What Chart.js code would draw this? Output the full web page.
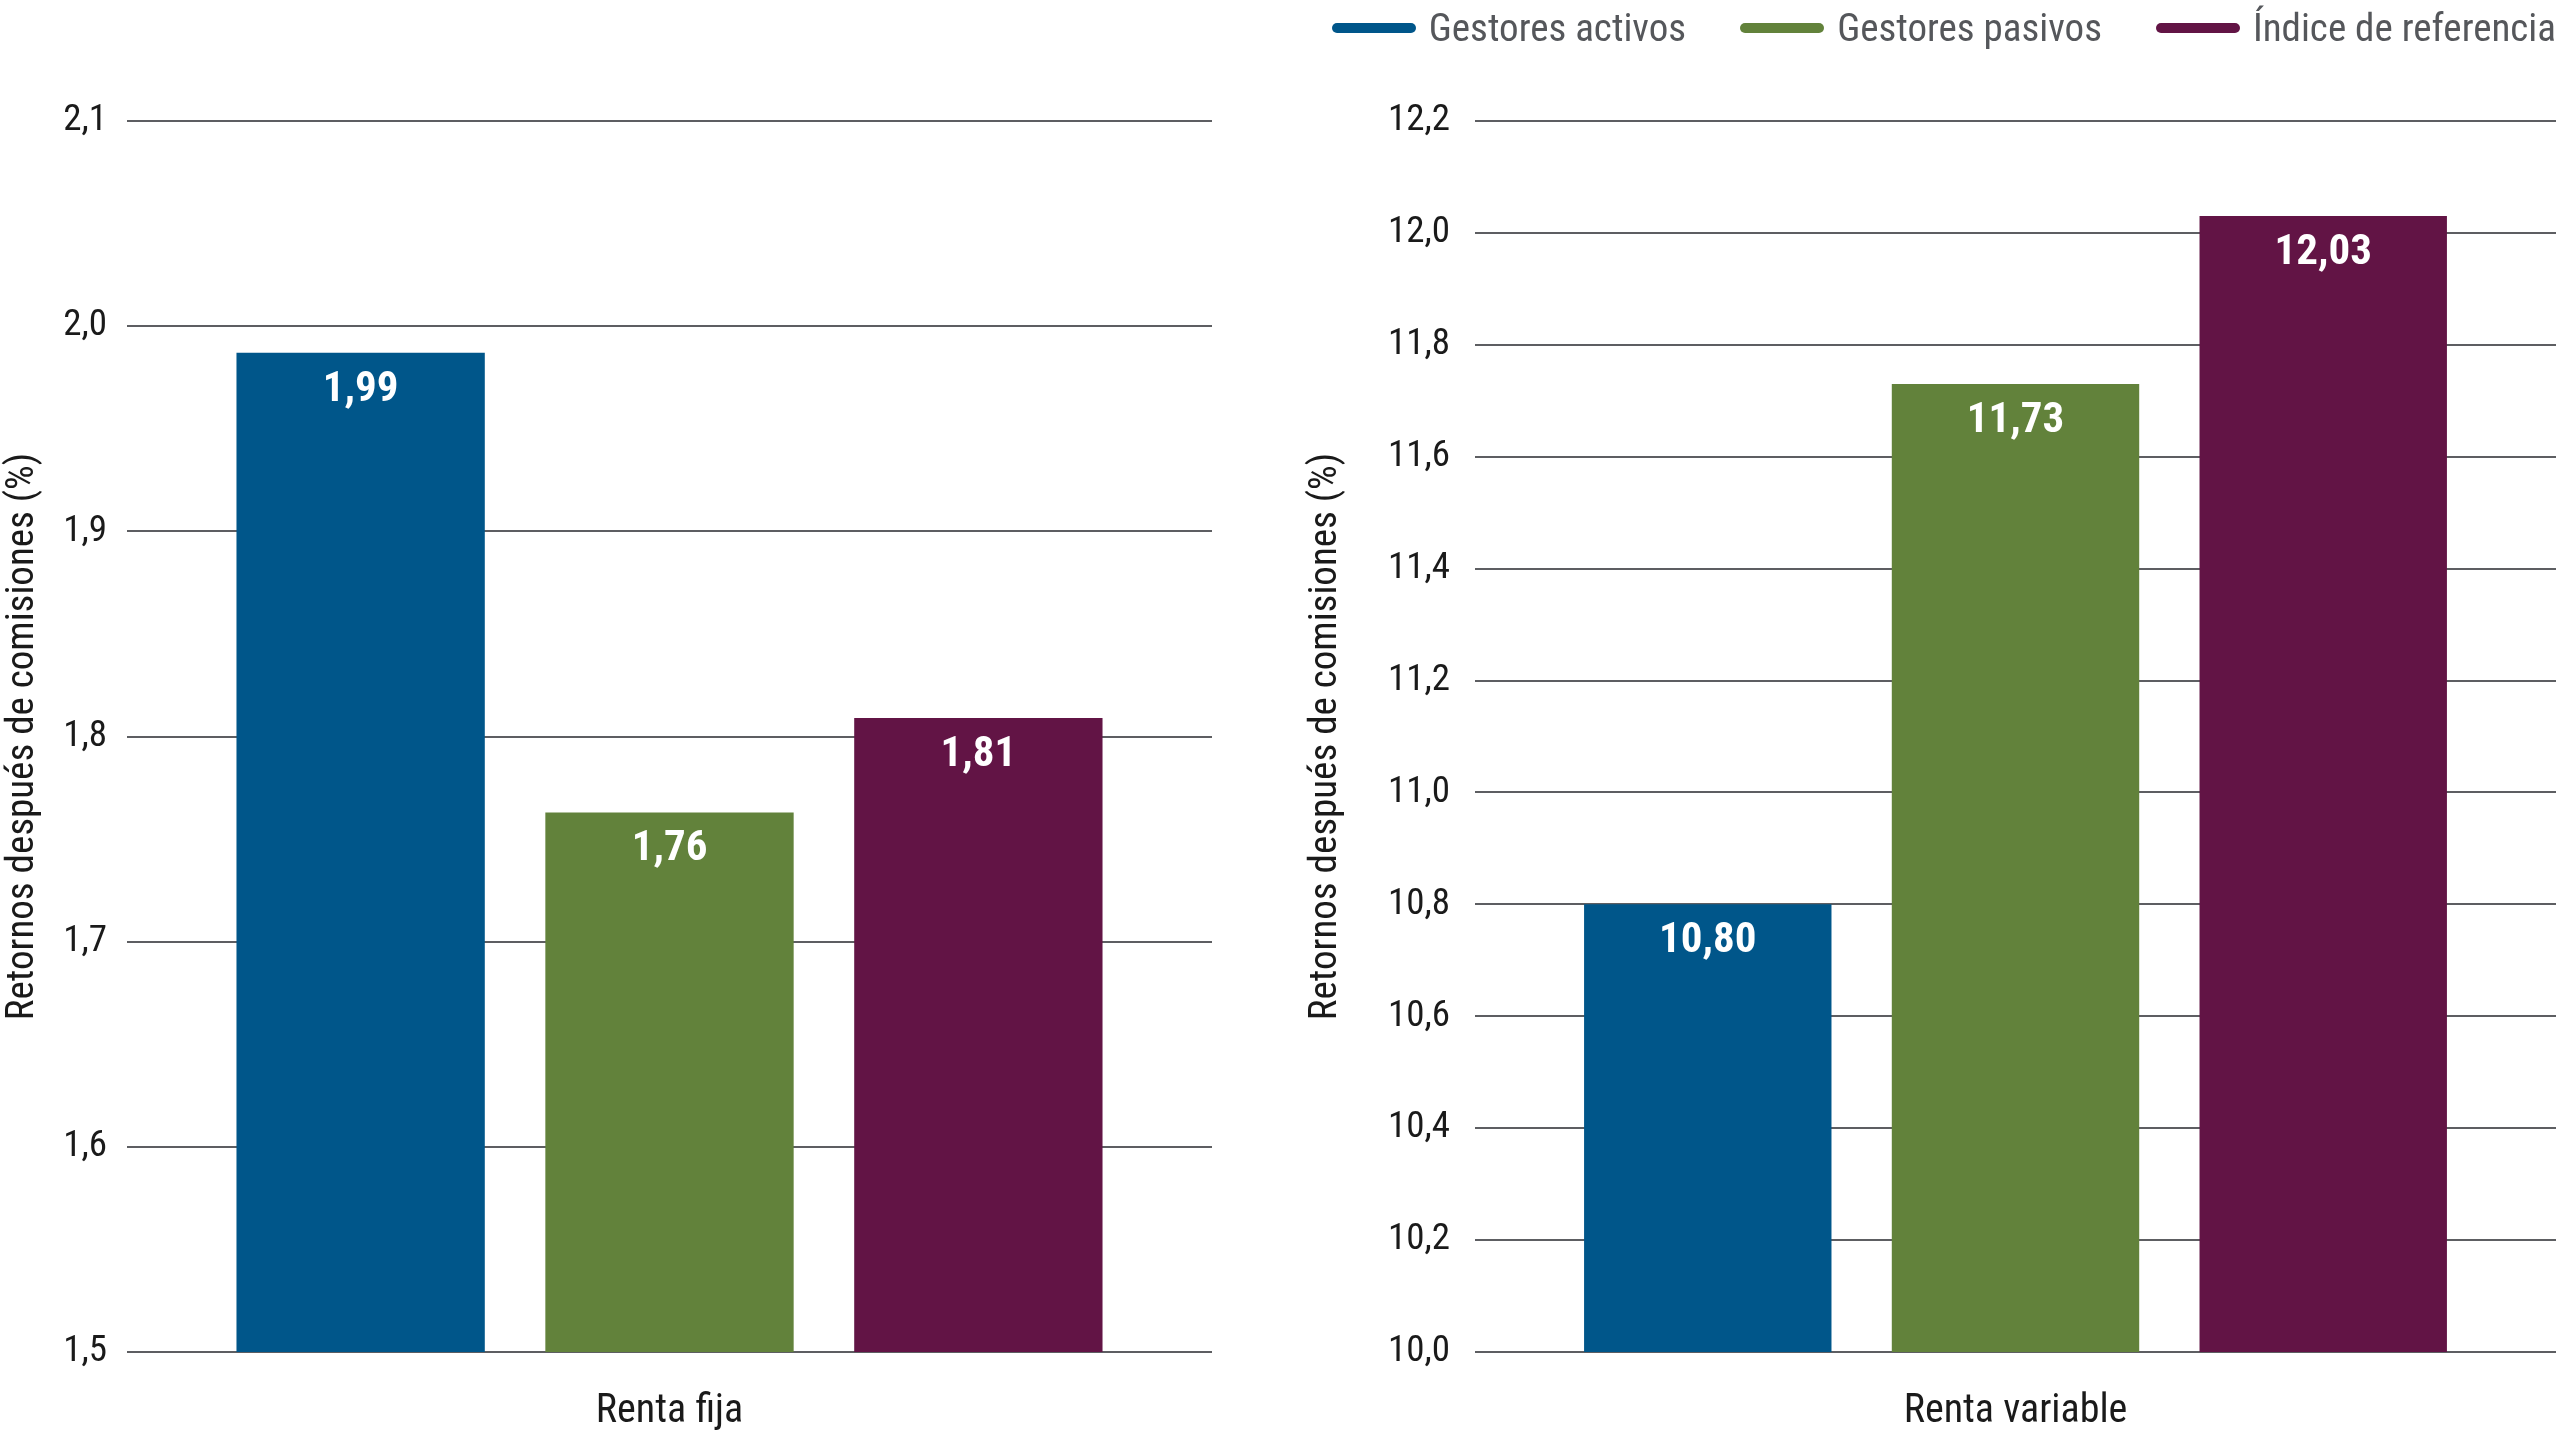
<!DOCTYPE html>
<html>
<head>
<meta charset="utf-8">
<title>Retornos después de comisiones</title>
<script src="https://cdn.jsdelivr.net/npm/chart.js@4.4.1/dist/chart.umd.min.js"></script>
<style>
  html, body { margin: 0; padding: 0; background: #fff; overflow: hidden; }
  #wrap { position: relative; width: 2560px; height: 1440px; }
  .box { position: absolute; top: 0; height: 1440px; }
  #left { left: 0; width: 1216px; }
  #right { left: 1303px; width: 1257px; }
  #legend {
    position: absolute; top: 0; right: 4px; height: 56px;
    display: flex; align-items: center;
    font-family: 'Liberation Sans Narrow', 'Roboto Condensed', 'Arial Narrow', 'Open Sans', sans-serif;
    font-size: 39px; color: #55575b; white-space: nowrap;
  }
  .item { display: flex; align-items: center; margin-left: 54px; }
  .item:first-child { margin-left: 0; }
  .swatch { width: 84px; height: 10px; border-radius: 5px; margin-right: 13px; }
</style>
</head>
<body>
<div id="wrap">
  <div class="box" id="left"><canvas id="chartFija"></canvas></div>
  <div class="box" id="right"><canvas id="chartVariable"></canvas></div>
  <div id="legend"></div>
</div>
<script>
// data
const seriesNames = ['Gestores activos', 'Gestores pasivos', 'Índice de referencia'];
const seriesColors = ['#00568a', '#62823b', '#621445'];
const fijaLabels = ['Renta fija'];
const fijaValues = [1.987, 1.763, 1.809];
const fijaTicks = [1.5, 2.1, 0.1];          // min, max, step
const variableLabels = ['Renta variable'];
const variableValues = [10.80, 11.73, 12.03];
const variableTicks = [10.0, 12.2, 0.2];
const yTitle = 'Retornos después de comisiones (%)';

const FONT = "'Liberation Sans Narrow', 'Roboto Condensed', 'Arial Narrow', 'Open Sans', sans-serif";
const TEXT = '#1a1a1a';
Chart.defaults.font.family = FONT;
Chart.defaults.color = TEXT;

function fmt(v, d) {
  return Number(v).toFixed(d).replace('.', ',');
}

// white value labels inside the top of each bar
const barLabels = {
  id: 'barLabels',
  afterDatasetsDraw(chart) {
    const ctx = chart.ctx;
    ctx.save();
    ctx.font = 'bold 43px ' + FONT;
    ctx.fillStyle = '#ffffff';
    ctx.textAlign = 'center';
    ctx.textBaseline = 'middle';
    chart.data.datasets.forEach((ds, i) => {
      chart.getDatasetMeta(i).data.forEach((bar, j) => {
        ctx.fillText(fmt(ds.data[j], 2), bar.x, bar.y + 37);
      });
    });
    ctx.restore();
  }
};

function makeChart(id, labels, values, ticks, yWidth, tickPad) {
  return new Chart(document.getElementById(id), {
    type: 'bar',
    data: {
      labels: labels,
      datasets: seriesNames.map((name, i) => ({
        label: name,
        data: [values[i]],
        backgroundColor: seriesColors[i],
        borderWidth: 0,
        categoryPercentage: 0.854,
        barPercentage: 0.804
      }))
    },
    options: {
      responsive: true,
      maintainAspectRatio: false,
      animation: false,
      layout: { padding: { top: 121, right: 4, bottom: 0, left: 0 } },
      plugins: {
        legend: { display: false },
        tooltip: { enabled: false }
      },
      scales: {
        x: {
          grid: { display: false },
          border: { display: false },
          ticks: { padding: 28, color: TEXT, font: { size: 40 } },
          afterFit: s => { s.height = 88; }
        },
        y: {
          min: ticks[0],
          max: ticks[1],
          ticks: {
            stepSize: ticks[2],
            padding: tickPad,
            color: TEXT,
            font: { size: 37 },
            callback: v => fmt(v, 1)
          },
          grid: { color: '#5d5e62', lineWidth: 2, drawTicks: false },
          border: { display: false },
          title: { display: true, text: yTitle, color: TEXT, font: { size: 39 }, padding: 0 },
          afterFit: s => { s.width = yWidth; }
        }
      }
    },
    plugins: [barLabels]
  });
}

const fija = makeChart('chartFija', fijaLabels, fijaValues, fijaTicks, 127, 20);
const variable = makeChart('chartVariable', variableLabels, variableValues, variableTicks, 172, 25);

// legend built from the chart's own legend items
const legendEl = document.getElementById('legend');
Chart.defaults.plugins.legend.labels.generateLabels(variable).forEach(it => {
  const item = document.createElement('div');
  item.className = 'item';
  const sw = document.createElement('span');
  sw.className = 'swatch';
  sw.style.background = it.fillStyle;
  const tx = document.createElement('span');
  tx.textContent = it.text;
  item.appendChild(sw);
  item.appendChild(tx);
  legendEl.appendChild(item);
});
</script>
</body>
</html>
